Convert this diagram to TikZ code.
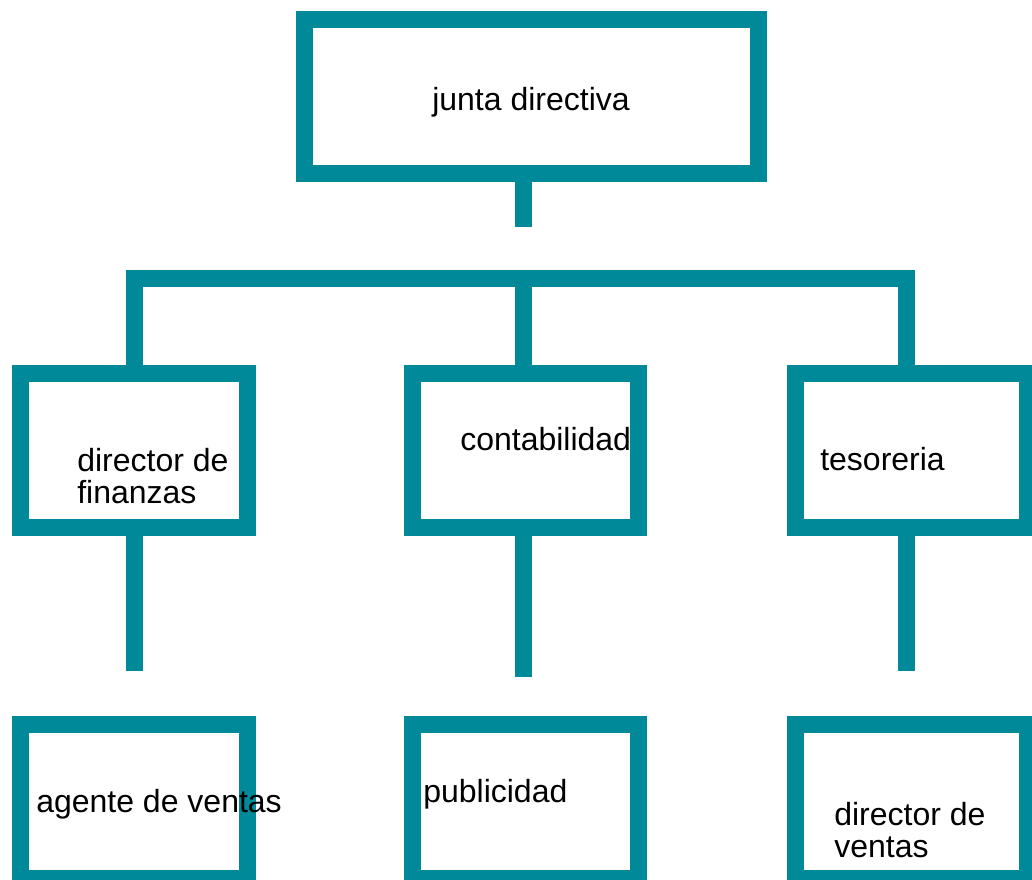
\documentclass[tikz,border=0pt]{standalone}
\usepackage{fontspec}
\setmainfont{Liberation Sans}
\definecolor{teal0}{RGB}{0,138,153}
\tikzset{
  box/.style={draw=teal0, line width=12.75pt, inner sep=0pt, minimum height=115.5pt, fill=white},
  conn/.style={draw=teal0, line width=12.75pt, line cap=butt, line join=miter},
  txt/.style={inner sep=0pt, anchor=base west, align=left, font=\fontsize{24}{23.8}\selectfont, text=black}
}
\begin{document}
\begin{tikzpicture}[x=0.75pt,y=-0.75pt]
\useasboundingbox (0,0) rectangle (1032,879);
\clip (0,0) rectangle (1032,879);
\fill[white] (0,0) rectangle (1032,879);
% boxes
\node[box, minimum width=340.5pt] (top) at (531.5,96.5) {};
\node[box, minimum width=170.25pt] (lm) at (134,450) {};
\node[box, minimum width=169.5pt] (mm) at (525.5,450) {};
\node[box, minimum width=174pt] (rm) at (911.5,450) {};
\node[box, minimum width=170.25pt] (lb) at (134,801.5) {};
\node[box, minimum width=169.5pt] (mb) at (525.5,801.5) {};
\node[box, minimum width=174pt] (rb) at (911.5,801.5) {};
% coordinates
\coordinate (s0) at (523.5,227);
\coordinate (bl) at (134,278.5);
\coordinate (bm) at (523.5,278.5);
\coordinate (br) at (906.5,278.5);
\coordinate (e1) at (134,671);
\coordinate (e2) at (523.5,677);
\coordinate (e3) at (906.5,671);
% connectors
\draw[conn] (top.south -| s0) -- (s0);
\draw[conn] (lm.north) -- (bl) -- (br) -- (rm.north -| br);
\draw[conn] (bm) -- (mm.north -| bm);
\draw[conn] (lm.south -| e1) -- (e1);
\draw[conn] (mm.south -| e2) -- (e2);
\draw[conn] (rm.south -| e3) -- (e3);
% texts
\node[txt] (t0) at (432,110) {junta directiva};
\node[txt] (t1) at (77,503) {director de\\finanzas};
\node[txt] (t2) at (460,450) {contabilidad};
\node[txt] (t3) at (820,470) {tesoreria};
\node[txt] (t4) at (36,812) {agente de ventas};
\node[txt] (t5) at (423,802) {publicidad};
\node[txt] (t6) at (834,857) {director de\\ventas};
\end{tikzpicture}
\end{document}
